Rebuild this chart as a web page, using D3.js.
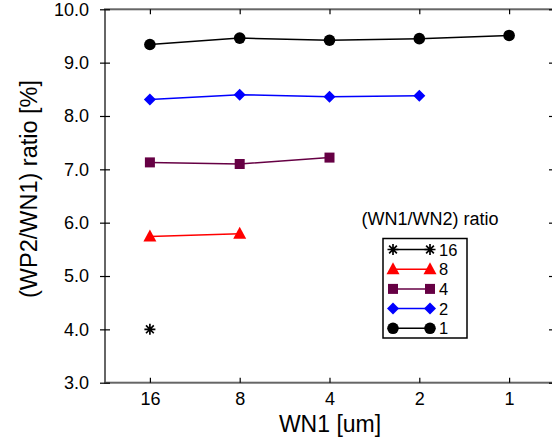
<!DOCTYPE html>
<meta charset="utf-8">
<head>
<style>
  body { margin: 0; background: #fff; }
  svg { font-family: "Liberation Sans", Arial, sans-serif; }
</style>
</head>
<body>
<script src="https://d3js.org/d3.v7.min.js"></script>
<script>
// x categories (WN1 in um) and y ticks
var wn1 = [16, 8, 4, 2, 1];
var yTicks = [3, 4, 5, 6, 7, 8, 9, 10];

// series values, one per (WN1/WN2) ratio
var ratio1  = [9.34, 9.46, 9.42, 9.45, 9.51];
var ratio2  = [8.31, 8.40, 8.36, 8.38];
var ratio4  = [7.13, 7.10, 7.22];
var ratio8  = [5.74, 5.79];
var ratio16 = [4.00];

var series = [
  { name: "16", values: ratio16, color: "#000000", sym: "star" },
  { name: "8",  values: ratio8,  color: "#ff0000", sym: "triangle" },
  { name: "4",  values: ratio4,  color: "#660044", sym: "square" },
  { name: "2",  values: ratio2,  color: "#0000ff", sym: "diamond" },
  { name: "1",  values: ratio1,  color: "#000000", sym: "circle" }
];

var W = 552, H = 444;
var pLeft = 105, pTop = 9.3, pRight = 554, pBottom = 382.7;

var svg = d3.select("body").append("svg")
    .attr("width", W)
    .attr("height", H);

// log2 scale, reversed (16 on the left)
var x = d3.scaleLog().base(2)
    .domain([16 * Math.SQRT2, 1 / Math.SQRT2])
    .range([pLeft, pRight]);
var y = d3.scaleLinear().domain([3, 10]).range([pBottom, pTop]);

// frame
svg.append("rect")
    .attr("x", pLeft).attr("y", pTop)
    .attr("width", pRight - pLeft).attr("height", pBottom - pTop)
    .attr("fill", "none").attr("stroke", "#666").attr("stroke-width", 2);

// bottom axis
var xb = svg.append("g")
    .attr("transform", "translate(0," + pBottom + ")")
    .call(d3.axisBottom(x).tickValues(wn1).tickFormat(d3.format("d")).tickSizeInner(-5).tickSizeOuter(0).tickPadding(10));
// top axis (ticks only)
var xt = svg.append("g")
    .attr("transform", "translate(0," + pTop + ")")
    .call(d3.axisTop(x).tickValues(wn1).tickFormat("").tickSizeInner(-5).tickSizeOuter(0));
// left axis
var yl = svg.append("g")
    .attr("transform", "translate(" + pLeft + ",0)")
    .call(d3.axisLeft(y).tickValues(yTicks).tickFormat(d3.format(".1f")).tickSizeInner(5).tickSizeOuter(0).tickPadding(11));
// right axis (ticks only)
var yr = svg.append("g")
    .attr("transform", "translate(" + pRight + ",0)")
    .call(d3.axisRight(y).tickValues(yTicks).tickFormat("").tickSizeInner(-5).tickSizeOuter(0));

[xb, xt, yl, yr].forEach(function(g) {
  g.select(".domain").remove();
  g.selectAll(".tick line").attr("stroke", "#000").attr("stroke-width", 1.2);
  g.selectAll("text").attr("font-size", 18).attr("fill", "#000")
    .attr("font-family", "'Liberation Sans', Arial, sans-serif");
});
yl.selectAll(".tick line").attr("x1", -5).attr("x2", 5);

// axis titles
svg.append("text")
    .attr("x", 330).attr("y", 432)
    .attr("text-anchor", "middle")
    .attr("font-size", 23)
    .text("WN1 [um]");
svg.append("text")
    .attr("transform", "translate(37,189) rotate(-90)")
    .attr("text-anchor", "middle")
    .attr("font-size", 23.5)
    .text("(WP2/WN1) ratio [%]");

// symbol drawing
function drawSymbol(g, sym, cx, cy, color) {
  if (sym === "circle") {
    g.append("circle").attr("cx", cx).attr("cy", cy).attr("r", 5.8).attr("fill", color);
  } else if (sym === "diamond") {
    g.append("path").attr("d", "M" + cx + "," + (cy - 6) + "L" + (cx + 6) + "," + cy +
      "L" + cx + "," + (cy + 6) + "L" + (cx - 6) + "," + cy + "Z").attr("fill", color);
  } else if (sym === "square") {
    g.append("rect").attr("x", cx - 5).attr("y", cy - 5).attr("width", 10).attr("height", 10).attr("fill", color);
  } else if (sym === "triangle") {
    g.append("path").attr("d", "M" + cx + "," + (cy - 7) + "L" + (cx + 6.5) + "," + (cy + 5) +
      "L" + (cx - 6.5) + "," + (cy + 5) + "Z").attr("fill", color);
  } else if (sym === "star") {
    var r = 5.5;
    var p = "";
    for (var i = 0; i < 4; i++) {
      var a = i * Math.PI / 4;
      p += "M" + (cx - r * Math.cos(a)) + "," + (cy - r * Math.sin(a)) +
           "L" + (cx + r * Math.cos(a)) + "," + (cy + r * Math.sin(a));
    }
    g.append("path").attr("d", p).attr("stroke", color).attr("stroke-width", 1.7).attr("fill", "none");
  }
}

var line = d3.line()
    .x(function(d, i) { return x(wn1[i]); })
    .y(function(d) { return y(d); });

series.forEach(function(s) {
  var g = svg.append("g");
  g.append("path").datum(s.values)
    .attr("d", line)
    .attr("fill", "none")
    .attr("stroke", s.color)
    .attr("stroke-width", 1.5);
  s.values.forEach(function(v, i) {
    drawSymbol(g, s.sym, x(wn1[i]), y(v), s.color);
  });
});

// legend
svg.append("text")
    .attr("x", 430).attr("y", 225)
    .attr("text-anchor", "middle")
    .attr("font-size", 18)
    .text("(WN1/WN2) ratio");
svg.append("rect")
    .attr("x", 383).attr("y", 238.5)
    .attr("width", 84).attr("height", 99.5)
    .attr("fill", "#fff").attr("stroke", "#000").attr("stroke-width", 1.5);
series.forEach(function(s, i) {
  var ly = 249.5 + i * 19.7;
  var g = svg.append("g");
  g.append("line").attr("x1", 393).attr("x2", 430).attr("y1", ly).attr("y2", ly)
    .attr("stroke", s.color).attr("stroke-width", 1.5);
  drawSymbol(g, s.sym, 393, ly, s.color);
  drawSymbol(g, s.sym, 430, ly, s.color);
  g.append("text").attr("x", 439).attr("y", ly + 6)
    .attr("font-size", 16.5).text(s.name);
});
</script>
</body>
</html>
